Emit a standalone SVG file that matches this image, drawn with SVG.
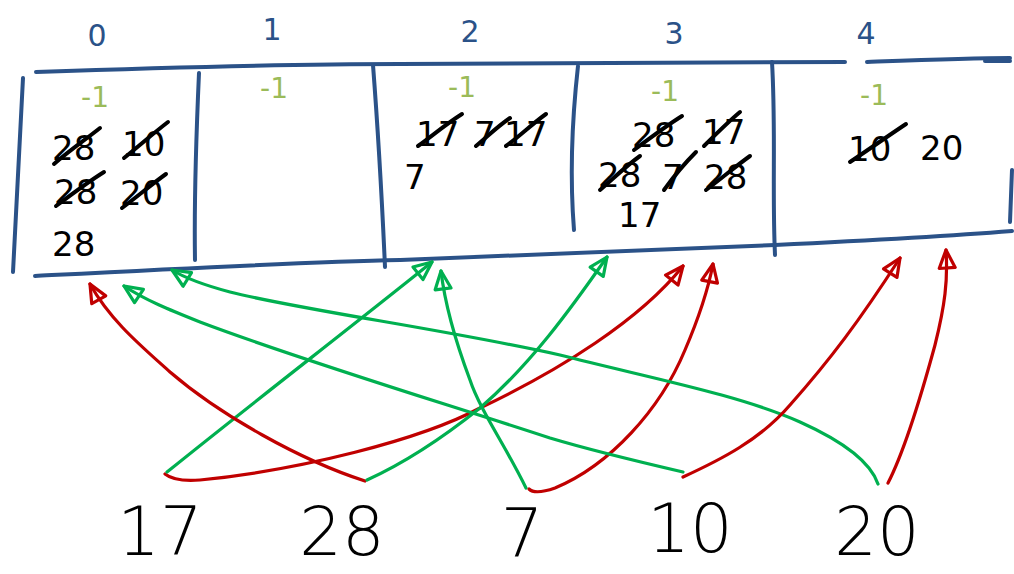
<svg xmlns="http://www.w3.org/2000/svg" width="1014" height="574" viewBox="0 0 1014 574">
<defs>
<style>
.box{fill:none;stroke:#2b5288;stroke-width:4;stroke-linecap:round;stroke-linejoin:round}
.idx{font-family:"DejaVu Sans",sans-serif;font-size:30px;fill:#2b5288;text-anchor:middle}
.nil{font-family:"DejaVu Sans",sans-serif;font-size:28px;fill:#9bbb59;text-anchor:middle}
.val{font-family:"DejaVu Sans",sans-serif;font-size:34px;fill:#000}
.strike{stroke:#000;stroke-width:4;stroke-linecap:round;fill:none}
.key{font-family:"DejaVu Sans",sans-serif;font-weight:200;font-size:67px;fill:#000;text-anchor:middle}
.r{fill:none;stroke:#c00000;stroke-width:3.2;stroke-linecap:round;marker-end:url(#ar)}
.g{fill:none;stroke:#00b050;stroke-width:3.2;stroke-linecap:round;marker-end:url(#ag)}
</style>
<marker id="ar" markerUnits="userSpaceOnUse" markerWidth="24" markerHeight="22" viewBox="0 0 24 22" refX="21" refY="11" orient="auto" overflow="visible">
<path d="M3,3 L21,11 L3,19 Z" fill="none" stroke="#c00000" stroke-width="3.2" stroke-linejoin="round"/>
</marker>
<marker id="ag" markerUnits="userSpaceOnUse" markerWidth="24" markerHeight="22" viewBox="0 0 24 22" refX="21" refY="11" orient="auto" overflow="visible">
<path d="M3,3 L21,11 L3,19 Z" fill="none" stroke="#00b050" stroke-width="3.2" stroke-linejoin="round"/>
</marker>
</defs>
<rect width="1014" height="574" fill="#fff"/>

<g id="table">
<path class="box" d="M36,72 C150,68 300,64 400,64 C550,63 700,62 845,62"/>
<path class="box" d="M867,62 C920,60 970,58 1010,58"/>
<path class="box" d="M985,61 L1010,61"/>
<path class="box" d="M23,78 L13,272"/>
<path class="box" d="M35,276 C150,270 300,262 400,260 C550,255 700,248 775,245 C880,240 950,236 1012,231"/>
<path class="box" d="M1012,170 L1010,222"/>
<path class="box" d="M199,73 C196,140 194,200 195,260"/>
<path class="box" d="M373,65 C378,130 382,200 385,267"/>
<path class="box" d="M578,66 C572,120 570,180 574,230"/>
<path class="box" d="M772,62 C776,130 772,190 775,255"/>
</g>

<g id="bucket0">
<text class="idx" x="97" y="46">0</text>
<text class="nil" x="95" y="107">-1</text>
<text class="val" x="52" y="160">28</text>
<path class="strike" d="M54,164 C70,150 85,140 100,128"/>
<text class="val" x="122" y="156">10</text>
<path class="strike" d="M124,158 C140,145 155,132 168,122"/>
<text class="val" x="54" y="204">28</text>
<path class="strike" d="M56,206 C72,194 88,182 104,172"/>
<text class="val" x="120" y="205">20</text>
<path class="strike" d="M122,208 C138,196 152,184 166,174"/>
<text class="val" x="52" y="256">28</text>
</g>

<g id="bucket1">
<text class="idx" x="272" y="40">1</text>
<text class="nil" x="274" y="98">-1</text>
</g>

<g id="bucket2">
<text class="idx" x="470" y="42">2</text>
<text class="nil" x="462" y="97">-1</text>
<text class="val" x="416" y="146">17</text>
<path class="strike" d="M418,146 C432,136 446,124 462,114"/>
<text class="val" x="474" y="146">7</text>
<path class="strike" d="M476,146 C488,136 498,126 510,118"/>
<text class="val" x="504" y="146">17</text>
<path class="strike" d="M506,146 C520,136 532,124 546,114"/>
<text class="val" x="404" y="189">7</text>
</g>

<g id="bucket3">
<text class="idx" x="674" y="44">3</text>
<text class="nil" x="665" y="101">-1</text>
<text class="val" x="632" y="147">28</text>
<path class="strike" d="M634,150 C650,138 666,126 682,116"/>
<text class="val" x="702" y="144">17</text>
<path class="strike" d="M704,146 C716,134 728,122 740,112"/>
<text class="val" x="598" y="187">28</text>
<path class="strike" d="M600,190 C614,178 626,166 640,156"/>
<text class="val" x="662" y="189">7</text>
<path class="strike" d="M664,190 C674,176 684,164 696,152"/>
<text class="val" x="704" y="189">28</text>
<path class="strike" d="M706,190 C722,178 736,166 750,156"/>
<text class="val" x="618" y="227">17</text>
</g>

<g id="bucket4">
<text class="idx" x="866" y="44">4</text>
<text class="nil" x="874" y="105">-1</text>
<text class="val" x="848" y="161">10</text>
<path class="strike" d="M850,162 C868,150 888,136 906,124"/>
<text class="val" x="920" y="160">20</text>
</g>

<g id="keys">
<text class="key" x="160" y="555">17</text>
<text class="key" x="342" y="555">28</text>
<text class="key" x="522" y="557">7</text>
<text class="key" x="690" y="552">10</text>
<text class="key" x="877" y="555">20</text>
</g>

<g id="connectors">
<path class="r" d="M165,474 Q175,482 200,480 C300,470 420,440 480,408 C560,370 640,320 683,266"/>
<path class="g" d="M167,472 C250,405 360,320 432,262"/>
<path class="r" d="M365,481 C300,460 220,415 170,372 C140,345 110,320 90,284"/>
<path class="g" d="M367,480 C400,465 440,440 480,408 C530,365 570,310 607,257"/>
<path class="g" d="M526,488 C505,445 480,410 470,380 C455,340 445,305 441,271"/>
<path class="r" d="M529,489 Q535,495 555,488 C610,465 660,410 685,350 C700,315 708,290 713,264"/>
<path class="g" d="M683,472 C640,462 590,450 550,438 C450,405 300,360 200,322 C170,310 145,300 124,286"/>
<path class="g" d="M878,484 C870,460 840,440 800,422 C740,395 650,378 560,355 C450,330 300,310 230,292 C200,284 185,278 172,270"/>
<path class="r" d="M683,477 C720,460 760,440 790,405 C830,360 860,320 900,258"/>
<path class="r" d="M888,483 C905,450 920,400 935,345 C945,305 948,280 946,250"/>
</g>
</svg>
